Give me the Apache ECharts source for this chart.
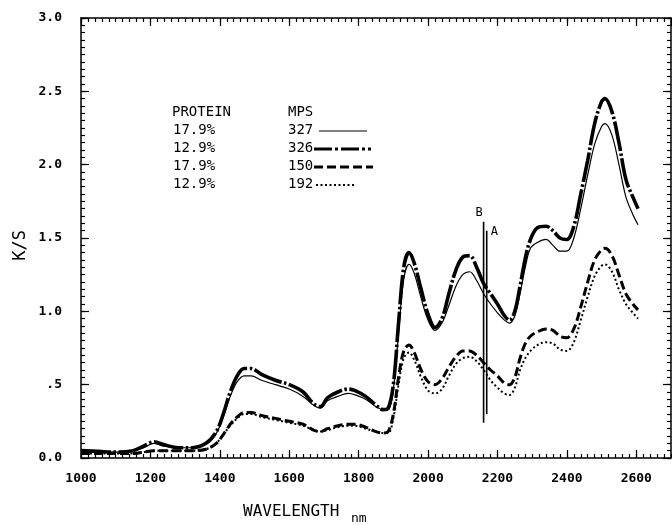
<!DOCTYPE html>
<html>
<head>
<meta charset="utf-8">
<script src="https://cdn.jsdelivr.net/npm/echarts@6/dist/echarts.min.js"></script>
<style>html,body{margin:0;padding:0;background:#fff}#c{width:672px;height:525px}</style>
</head>
<body>
<div id="c"></div>
<script>
// ---- data ----
const wavelength = [1000,1050,1100,1150,1180,1210,1240,1280,1320,1360,1390,1410,1430,1450,1470,1490,1520,1560,1600,1640,1670,1690,1710,1740,1770,1790,1820,1850,1870,1885,1900,1915,1930,1945,1960,1980,2000,2020,2040,2060,2080,2100,2120,2140,2160,2180,2200,2220,2235,2250,2265,2280,2295,2315,2340,2360,2380,2400,2420,2440,2460,2480,2500,2510,2530,2550,2570,2590,2605];
const mps327 = [0.05,0.045,0.04,0.05,0.07,0.10,0.08,0.07,0.07,0.10,0.17,0.28,0.42,0.52,0.56,0.56,0.53,0.50,0.47,0.42,0.36,0.34,0.39,0.42,0.44,0.43,0.40,0.35,0.33,0.33,0.47,0.85,1.22,1.32,1.26,1.09,0.94,0.87,0.92,1.04,1.17,1.25,1.27,1.21,1.12,1.05,0.99,0.94,0.92,0.97,1.12,1.30,1.43,1.47,1.49,1.45,1.41,1.41,1.50,1.70,1.93,2.14,2.26,2.28,2.20,2.00,1.78,1.66,1.59];
const mps326 = [0.05,0.045,0.04,0.05,0.08,0.11,0.09,0.07,0.07,0.10,0.18,0.30,0.45,0.56,0.61,0.61,0.57,0.53,0.50,0.45,0.37,0.35,0.41,0.45,0.47,0.46,0.42,0.36,0.33,0.34,0.50,0.92,1.30,1.40,1.33,1.15,0.98,0.89,0.95,1.12,1.28,1.37,1.38,1.30,1.19,1.12,1.05,0.97,0.94,1.00,1.17,1.36,1.49,1.57,1.58,1.55,1.50,1.49,1.58,1.80,2.03,2.28,2.43,2.45,2.36,2.15,1.90,1.78,1.70];
const mps150 = [0.03,0.03,0.03,0.03,0.04,0.05,0.05,0.05,0.05,0.06,0.10,0.16,0.23,0.28,0.31,0.31,0.29,0.27,0.25,0.23,0.19,0.18,0.20,0.22,0.23,0.23,0.21,0.18,0.17,0.18,0.30,0.55,0.73,0.77,0.72,0.60,0.52,0.50,0.54,0.62,0.69,0.73,0.73,0.70,0.65,0.60,0.56,0.51,0.50,0.55,0.68,0.78,0.83,0.86,0.88,0.87,0.83,0.82,0.88,1.03,1.20,1.35,1.42,1.43,1.38,1.25,1.12,1.05,1.01];
const mps192 = [0.03,0.03,0.03,0.03,0.04,0.05,0.05,0.05,0.05,0.06,0.10,0.16,0.22,0.27,0.30,0.30,0.28,0.26,0.24,0.22,0.19,0.18,0.19,0.21,0.22,0.22,0.20,0.18,0.17,0.17,0.27,0.50,0.68,0.72,0.67,0.55,0.46,0.44,0.47,0.56,0.64,0.68,0.69,0.66,0.60,0.53,0.48,0.44,0.43,0.48,0.60,0.68,0.73,0.77,0.79,0.78,0.74,0.73,0.79,0.94,1.10,1.24,1.31,1.32,1.27,1.15,1.05,0.99,0.95];
const markerB = [[2160, 0.24], [2160, 1.61]];
const markerA = [[2169, 0.30], [2169, 1.55]];
const yTickLabels = {0: '0.0', 0.5: '.5', 1: '1.0', 1.5: '1.5', 2: '2.0', 2.5: '2.5', 3: '3.0'};
const proteinLabels = ['17.9%', '12.9%', '17.9%', '12.9%'];
const mpsLabels = ['327', '326', '150', '192'];

// ---- chart ----
const FONT = 'DejaVu Sans Mono';
const pairs = ys => wavelength.map((w, i) => [w, ys[i]]);
const chart = echarts.init(document.getElementById('c'), null, {renderer: 'canvas'});

function xAx(pos, interval, len, main) {
  return {
    type: 'value', position: pos, min: 1000, max: 2700, interval: interval,
    axisLine: {show: main, onZero: false, lineStyle: {color: '#000', width: 1.5}},
    axisTick: {show: true, inside: true, length: len, lineStyle: {color: '#000', width: 1.2}},
    axisLabel: {show: main && pos === 'bottom', showMaxLabel: false, color: '#000', fontFamily: FONT, fontSize: 13, fontWeight: 'bold', margin: 14,
      formatter: v => String(v)},
    splitLine: {show: false}
  };
}
function yAx(pos, interval, len, main) {
  return {
    type: 'value', position: pos, min: 0, max: 3, interval: interval,
    axisLine: {show: main, onZero: false, lineStyle: {color: '#000', width: 1.5}},
    axisTick: {show: true, inside: true, length: len, lineStyle: {color: '#000', width: 1.2}},
    axisLabel: {show: main && pos === 'left', color: '#000', fontFamily: FONT, fontSize: 13, fontWeight: 'bold', margin: 19,
      formatter: v => yTickLabels[v] !== undefined ? yTickLabels[v] : ''},
    splitLine: {show: false}
  };
}

function marker(data, txt, lab) {
  return {
    type: 'line', silent: true,
    data: [data[0], {value: data[1], label: Object.assign({show: true, formatter: txt, color: '#000', fontFamily: FONT, fontSize: 12}, lab)}],
    symbol: 'circle', symbolSize: 2, showSymbol: true, itemStyle: {color: 'rgba(0,0,0,0)', borderWidth: 0},
    lineStyle: {color: '#000', width: 1.6}
  };
}

const series = [
  {name: '327', type: 'line', data: pairs(mps327), smooth: 0.35, showSymbol: false, lineStyle: {color: '#000', width: 1.2}},
  {name: '326', type: 'line', data: pairs(mps326), smooth: 0.35, showSymbol: false, lineStyle: {color: '#000', width: 3.6, type: [30, 2.5, 2.5, 2.5]}},
  {name: '150', type: 'line', data: pairs(mps150), smooth: 0.35, showSymbol: false, lineStyle: {color: '#000', width: 3, type: [9, 4]}},
  {name: '192', type: 'line', data: pairs(mps192), smooth: 0.35, showSymbol: false, lineStyle: {color: '#000', width: 2, type: [2, 2.5]}},
  marker(markerB, 'B', {position: [-7, -14]}),
  marker(markerA, 'A', {position: [5, -4]})
].map(s => Object.assign({animation: false, xAxisIndex: 0, yAxisIndex: 0}, s));

// legend drawn as graphic text + sample lines
const legendGraphics = [
  {type: 'text', left: 172, top: 105, style: {text: 'PROTEIN', font: '14px "' + FONT + '"', fill: '#000'}},
  {type: 'text', left: 288, top: 105, style: {text: 'MPS', font: '14px "' + FONT + '"', fill: '#000'}}
];
const sampleStyles = [
  {lineWidth: 1.2, x1: 319, x2: 367},
  {lineWidth: 3.2, lineDash: [18, 3, 3, 3], x1: 314, x2: 371},
  {lineWidth: 3, lineDash: [9, 4], x1: 314, x2: 373},
  {lineWidth: 2, lineDash: [2, 2.5], x1: 316, x2: 356}
];
for (let i = 0; i < 4; i++) {
  const cy = 131 + i * 18;
  legendGraphics.push({type: 'text', left: 173, top: cy - 8, style: {text: proteinLabels[i], font: '14px "' + FONT + '"', fill: '#000'}});
  legendGraphics.push({type: 'text', left: 288, top: cy - 8, style: {text: mpsLabels[i], font: '14px "' + FONT + '"', fill: '#000'}});
  const s = sampleStyles[i];
  legendGraphics.push({type: 'line', shape: {x1: s.x1, y1: cy, x2: s.x2, y2: cy}, style: {stroke: '#000', lineWidth: s.lineWidth, lineDash: s.lineDash || null}});
}
legendGraphics.push({type: 'text', left: 243, top: 504, style: {text: 'WAVELENGTH', font: '16px "' + FONT + '"', fill: '#000'}});
legendGraphics.push({type: 'text', left: 351, top: 512, style: {text: 'nm', font: '13px "' + FONT + '"', fill: '#000'}});
legendGraphics.push({type: 'text', left: 12, top: 230, rotation: Math.PI / 2, originX: 0, originY: 0,
  style: {text: 'K/S', font: '17px "' + FONT + '"', fill: '#000'}});

chart.setOption({
  backgroundColor: '#fff',
  animation: false,
  grid: {left: 81, right: 1, top: 18, bottom: 67, containLabel: false},
  xAxis: [xAx('bottom', 200, 8, true), xAx('bottom', 20, 4, false), xAx('top', 200, 8, true), xAx('top', 20, 4, false)],
  yAxis: [yAx('left', 0.5, 8, true), yAx('left', 0.05, 4, false), yAx('right', 0.5, 8, true), yAx('right', 0.05, 4, false)],
  series: series,
  graphic: legendGraphics
});
</script>
</body>
</html>
